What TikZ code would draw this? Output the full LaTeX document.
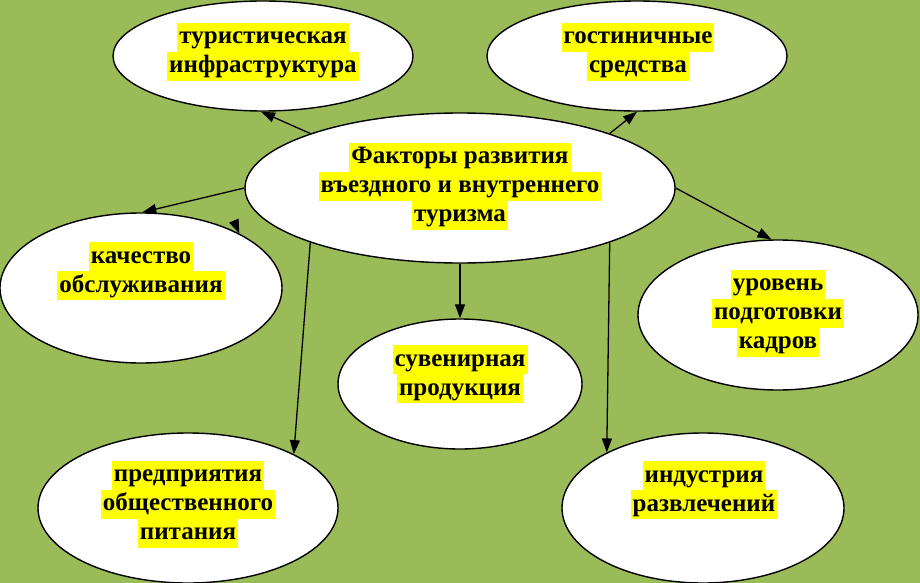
\documentclass[tikz,border=0pt]{standalone}
\usepackage{fontspec}
\setmainfont{Liberation Serif}
\usetikzlibrary{shapes.geometric,arrows.meta}
\definecolor{bggreen}{HTML}{9BBB59}
\definecolor{hlyellow}{HTML}{FFFF00}
\newcommand{\hl}[1]{{\setlength{\fboxsep}{0pt}\colorbox{hlyellow}{\rule[-8pt]{0pt}{29pt}\hspace{2pt}#1\hspace{2pt}}}}
\begin{document}
\begin{tikzpicture}[x=1pt,y=-1pt,
  oval/.style={ellipse, draw=black, line width=1.4pt, fill=white, inner sep=0pt},
  lbl/.style={inner sep=0pt, align=center, font=\fontsize{25}{29}\selectfont\bfseries},
  conn/.style={line width=1.3pt, -{Triangle[length=14pt,width=10pt]}}]
\fill[bggreen] (0,0) rectangle (920,583);
\useasboundingbox (0,0) rectangle (920,583);
\node[oval, minimum width=300pt, minimum height=110pt] (t1) at (263,56) {};
\node[oval, minimum width=300pt, minimum height=110pt] (t2) at (637,56) {};
\node[oval, minimum width=430pt, minimum height=150pt] (c) at (460,188) {};
\node[oval, minimum width=282pt, minimum height=150pt] (k) at (141,288) {};
\node[oval, minimum width=280pt, minimum height=150pt] (u) at (778,315) {};
\node[oval, minimum width=244pt, minimum height=130pt] (s) at (460,384) {};
\node[oval, minimum width=300pt, minimum height=150pt] (p) at (188,508) {};
\node[oval, minimum width=282pt, minimum height=150pt] (i) at (703,508) {};
\draw[conn] (c.160) -- (t1.268);
\draw[conn] (c.20) -- (t2.270);
\draw[conn] (c.180) -- (k.89);
\coordinate (stray) at (234,221);
\draw[conn] (stray) -- (k.29);
\draw[conn] (c.0) -- (u.95);
\draw[conn] (c.270) -- (s.90);
\draw[conn] (c.200) -- (p.27);
\draw[conn] (c.340) -- (i.150);
\node[lbl] (t1l) at (263,52) {\hl{туристическая}\\\hl{инфраструктура}};
\node[lbl] (t2l) at (638,52) {\hl{гостиничные}\\\hl{средства}};
\node[lbl] (cl) at (460,186) {\hl{Факторы развития}\\\hl{въездного и внутреннего}\\\hl{туризма}};
\node[lbl] (kl) at (141,271) {\hl{качество}\\\hl{обслуживания}};
\node[lbl] (ul) at (778,313) {\hl{уровень}\\\hl{подготовки}\\\hl{кадров}};
\node[lbl] (sl) at (460,374) {\hl{сувенирная}\\\hl{продукция}};
\node[lbl] (pl) at (188,504) {\hl{предприятия}\\\hl{общественного}\\\hl{питания}};
\node[lbl] (il) at (704,490) {\hl{индустрия}\\\hl{развлечений}};
\end{tikzpicture}
\end{document}
